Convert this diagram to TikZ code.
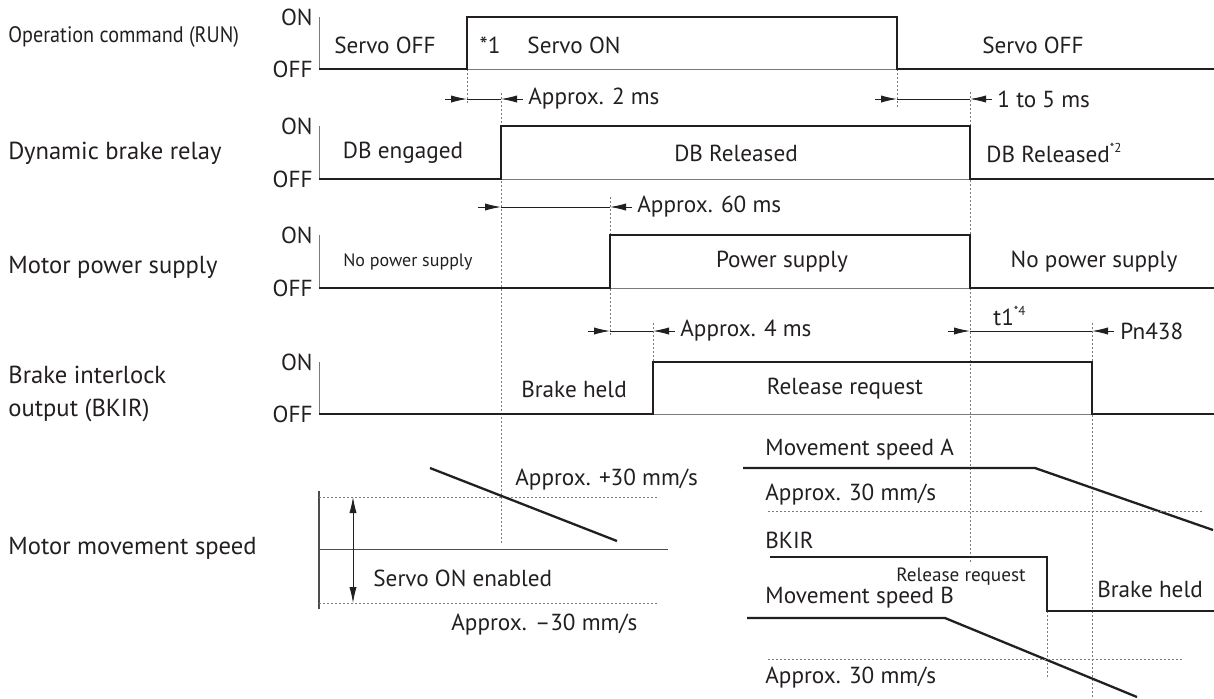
\documentclass[tikz,border=0pt]{standalone}
\usepackage{fontspec}
\setmainfont{PT Sans}
\usetikzlibrary{arrows.meta}
\definecolor{ink}{HTML}{231F20}
\definecolor{grayline}{HTML}{7A7A7A}
\newcommand{\supnote}[1]{\raisebox{0.85ex}{\fontsize{6.5}{7}\selectfont #1}}
\begin{document}
\begin{tikzpicture}[x=0.5pt,y=-0.5pt,
  txt/.style={inner sep=0pt, font=\fontsize{11.6}{16.5}\selectfont, text=ink},
  lbl/.style={inner sep=0pt, font=\fontsize{12.3}{16.5}\selectfont, text=ink, anchor=west, align=left},
  smalltxt/.style={inner sep=0pt, font=\fontsize{9.6}{12}\selectfont, text=ink},
  sig/.style={line width=1.15pt, draw=ink, line join=miter},
  base/.style={line width=0.5pt, draw=grayline},
  guide/.style={line width=0.5pt, draw=grayline, dash pattern=on 1pt off 1pt},
  dim/.style={line width=0.45pt, draw=ink},
  tip/.style={-{Latex[length=8pt,width=3.6pt]}, line width=0.45pt, draw=ink},
  dbl/.style={{Latex[length=8pt,width=3.6pt]}-{Latex[length=8pt,width=3.6pt]}, line width=0.45pt, draw=ink}
]
\useasboundingbox (0,0) rectangle (1214,698);

% ---- left labels
\node[lbl,font=\fontsize{11.2}{16.5}\selectfont] (l1) at (8,37) {\scalebox{0.9}[1]{Operation command (RUN)}};
\node[lbl] (l2) at (8,153) {Dynamic brake relay};
\node[lbl] (l3) at (8,267) {Motor power supply};
\node[lbl] (l4) at (8,394) {Brake interlock\\output (BKIR)};
\node[lbl] (l5) at (8,548) {Motor movement speed};

% ---- axes, ON/OFF labels, base lines
\foreach \t/\b/\n in {17/69/1,126/179/2,235/288/3,362/414/4}{
  \node[txt,anchor=east] (on\n) at (313,\t) {ON};
  \node[txt,anchor=east] (off\n) at (313,\b) {OFF};
  \draw[base] (319,\t) -- (319,\b) -- (1214,\b);
}

% ---- guide (dotted) lines
\draw[guide] (467,69) -- (467,105);
\draw[guide] (501,93) -- (501,544);
\draw[guide] (610,197) -- (610,337);
\draw[guide] (653,323) -- (653,414);
\draw[guide] (897,69) -- (897,108);
\draw[guide] (970,92) -- (970,562);
\draw[guide] (1092,323) -- (1092,698);
\draw[guide] (1047,611) -- (1047,677);

% ---- signals
\draw[sig] (319,69) -- (467,69) -- (467,17) -- (897,17) -- (897,69) -- (1214,69);
\draw[sig] (319,179) -- (501,179) -- (501,126) -- (970,126) -- (970,179) -- (1214,179);
\draw[sig] (319,288) -- (610,288) -- (610,235) -- (970,235) -- (970,288) -- (1214,288);
\draw[sig] (319,414) -- (653,414) -- (653,362) -- (1092,362) -- (1092,414) -- (1214,414);

% ---- row texts
\node[txt] (r1a) at (385,45) {Servo OFF};
\node[txt] (r1b) at (490,45) {*1};
\node[txt] (r1c) at (574,45) {Servo ON};
\node[txt] (r1d) at (1033,45) {Servo OFF};
\node[txt] (r2a) at (403,153) {DB engaged};
\node[txt] (r2b) at (736,153) {DB Released};
\node[txt,anchor=west] (r2c) at (986,153) {DB Released\supnote{*2}};
\node[smalltxt,font=\fontsize{9.0}{12}\selectfont] (r3a) at (408,262) {No power supply};
\node[txt] (r3b) at (782,262) {Power supply};
\node[txt] (r3c) at (1094,262) {No power supply};
\node[txt] (r4a) at (574,389) {Brake held};
\node[txt] (r4b) at (845,389) {Release request};

% ---- timing dimensions
\draw[tip] (445,99) -- (467,99);
\draw[dim] (467,99) -- (501,99);
\draw[tip] (523,99) -- (501,99);
\node[txt,anchor=west] (d1) at (528,99) {Approx. 2 ms};

\draw[tip] (875,99) -- (897,99);
\draw[dim] (897,99) -- (970,99);
\draw[tip] (992,99) -- (970,99);
\node[txt,anchor=west] (d2) at (997,99) {1 to 5 ms};

\draw[tip] (478,207) -- (501,207);
\draw[dim] (501,207) -- (610,207);
\draw[tip] (632,207) -- (610,207);
\node[txt,anchor=west] (d3) at (637,207) {Approx. 60 ms};

\draw[tip] (588,331) -- (610,331);
\draw[dim] (610,331) -- (653,331);
\draw[tip] (675,331) -- (653,331);
\node[txt,anchor=west] (d4) at (680,331) {Approx. 4 ms};

\draw[tip] (948,331) -- (970,331);
\draw[dim] (970,331) -- (1092,331);
\draw[tip] (1114,331) -- (1092,331);
\node[txt,anchor=west] (d5) at (1120,331) {Pn438};
\node[txt,anchor=west] (d6) at (993,316) {t1\supnote{*4}};

% ---- motor movement speed (left chart)
\draw[line width=0.6pt, draw=ink!80] (319,491) -- (319,609);
\draw[guide] (319,497) -- (658,497);
\draw[guide] (319,603) -- (658,603);
\draw[line width=0.5pt, draw=ink!80] (319,549) -- (668,549);
\draw[dbl] (353,497) -- (353,603);
\draw[sig] (430,468) -- (617,541);
\node[txt,anchor=west] (s1) at (515,480) {Approx. +30 mm/s};
\node[txt,anchor=west] (s2) at (373,578) {Servo ON enabled};
\node[txt,anchor=west] (s3) at (451,625) {Approx. –30 mm/s};

% ---- right chart
\node[txt,anchor=west] (m1) at (765,450) {Movement speed A};
\draw[sig] (743,468) -- (1035,468) -- (1213,530);
\node[txt,anchor=west] (m2) at (765,495) {Approx. 30 mm/s};
\draw[guide] (768,511) -- (1203,511);
\node[txt,anchor=west] (m3) at (765,540) {BKIR};
\draw[sig] (770,557) -- (1047,557) -- (1047,611) -- (1214,611);
\node[smalltxt] (m4) at (961,577) {Release request};
\node[txt] (m5) at (1150,589) {Brake held};
\node[txt,anchor=west] (m6) at (765,598) {Movement speed B};
\draw[sig] (747,618) -- (945,618) -- (1137,697);
\draw[guide] (768,659) -- (1182,659);
\node[txt,anchor=west] (m7) at (765,678) {Approx. 30 mm/s};
\end{tikzpicture}
\end{document}
